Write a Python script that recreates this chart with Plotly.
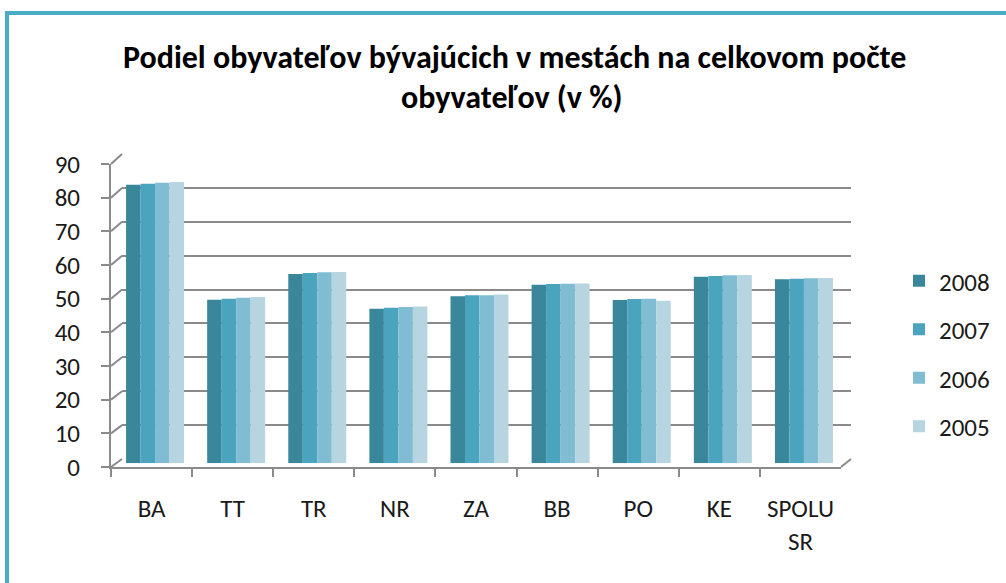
import plotly.graph_objects as go

# ---------------- data ----------------
categories = ["BA", "TT", "TR", "NR", "ZA", "BB", "PO", "KE", "SPOLU<br>SR"]
years = ["2008", "2007", "2006", "2005"]
v2008 = [82.4, 48.4, 56.0, 45.7, 49.4, 52.8, 48.3, 55.2, 54.4]
v2007 = [82.7, 48.7, 56.3, 46.0, 49.7, 53.0, 48.6, 55.4, 54.6]
v2006 = [83.0, 49.0, 56.5, 46.2, 49.7, 53.1, 48.7, 55.6, 54.7]
v2005 = [83.2, 49.2, 56.6, 46.4, 49.9, 53.2, 48.1, 55.7, 54.8]
series = [v2008, v2007, v2006, v2005]
y_ticks = [0, 10, 20, 30, 40, 50, 60, 70, 80, 90]

colors = ["#3A879B", "#4AA4BD", "#80BDD2", "#B7D5E0"]
FONT = "Carlito, Calibri, Lato, sans-serif"
GRAY = "#8A8A8A"
TXT = "#1a1a1a"

W, H = 1006, 583


def px_x(p):
    return p / W


def px_y(p):
    return 1 - p / H


# pixel geometry (front plane, bar plane, back wall)
FRONT_X = (111, 841)
FRONT_Y0, FRONT_Y90 = 467, 164
BAR_X = (114.5, 844.5)
BAR_Y0, BAR_Y90 = 463.3, 159
BACK_X = (122, 851)
BACK_Y0, BACK_Y90 = 459, 154

fig = go.Figure()

# back wall (subplot xy) - gridlines only
fig.add_trace(go.Scatter(x=[], y=[], xaxis="x", yaxis="y", showlegend=False,
                         hoverinfo="skip"))
# front axes (x2y2) - labels
fig.add_trace(go.Scatter(x=categories, y=[None] * len(categories), xaxis="x2",
                         yaxis="y2", showlegend=False, hoverinfo="skip",
                         mode="markers"))
# bars (x3y3)
for yr, vals, col in zip(years, series, colors):
    fig.add_trace(go.Bar(x=categories, y=vals, name=yr, xaxis="x3", yaxis="y3",
                         marker=dict(color=col, line=dict(width=0)),
                         legendgroup=yr))

fig.update_layout(
    width=W, height=H, autosize=False,
    margin=dict(l=0, r=0, t=0, b=0, pad=0),
    paper_bgcolor="white", plot_bgcolor="rgba(0,0,0,0)",
    font=dict(family=FONT, size=25, color=TXT),
    barmode="group", bargap=0.285, bargroupgap=0,
    showlegend=True,
    legend=dict(x=px_x(899), y=px_y(258), xanchor="left", yanchor="top",
                font=dict(size=25, family=FONT, color=TXT),
                traceorder="grouped", tracegroupgap=13,
                bgcolor="rgba(0,0,0,0)"),
    xaxis=dict(domain=[px_x(BACK_X[0]), px_x(BACK_X[1])], anchor="y",
               showline=False, showticklabels=False, ticks="", showgrid=False,
               zeroline=False, range=[0, 1], automargin=False),
    yaxis=dict(domain=[px_y(BACK_Y0), px_y(BACK_Y90)], anchor="x",
               range=[0, 90], tickvals=y_ticks, showticklabels=False, ticks="",
               showgrid=True, gridcolor=GRAY, gridwidth=2, zeroline=False,
               showline=False, automargin=False),
    xaxis2=dict(domain=[px_x(FRONT_X[0]), px_x(FRONT_X[1])], anchor="y2",
                type="category", range=[-0.5, len(categories) - 0.5],
                showline=True, linecolor=GRAY, linewidth=2,
                ticks="outside", ticklen=8, tickwidth=2, tickcolor=GRAY,
                tickson="boundaries", showgrid=False, zeroline=False,
                ticklabelstandoff=18, automargin=False,
                tickfont=dict(size=25, family=FONT, color=TXT)),
    yaxis2=dict(domain=[px_y(FRONT_Y0), px_y(FRONT_Y90)], anchor="x2",
                range=[0, 90], tickvals=y_ticks, showline=True, linecolor=GRAY,
                linewidth=2, ticks="outside", ticklen=8, tickwidth=2,
                tickcolor=GRAY, showgrid=False, zeroline=False,
                ticklabelstandoff=16, automargin=False,
                tickfont=dict(size=25, family=FONT, color=TXT)),
    xaxis3=dict(domain=[px_x(BAR_X[0]), px_x(BAR_X[1])], anchor="y3",
                type="category", range=[-0.5, len(categories) - 0.5],
                visible=False, automargin=False),
    yaxis3=dict(domain=[px_y(BAR_Y0), px_y(BAR_Y90)], anchor="x3",
                range=[0, 90], visible=False, automargin=False),
)

# left side wall: diagonal connections from front axis ticks to back wall gridlines
shapes = []
for v in y_ticks:
    yf = FRONT_Y0 + (FRONT_Y90 - FRONT_Y0) * v / 90
    yb = BACK_Y0 + (BACK_Y90 - BACK_Y0) * v / 90
    shapes.append(dict(type="line", xref="paper", yref="paper",
                       x0=px_x(FRONT_X[0]), y0=px_y(yf),
                       x1=px_x(BACK_X[0]), y1=px_y(yb),
                       line=dict(color=GRAY, width=2), layer="below"))
# floor right edge
shapes.append(dict(type="line", xref="paper", yref="paper",
                   x0=px_x(FRONT_X[1]), y0=px_y(FRONT_Y0),
                   x1=px_x(BACK_X[1]), y1=px_y(BACK_Y0),
                   line=dict(color=GRAY, width=2), layer="below"))
# outer chart border
shapes.append(dict(type="rect", xref="paper", yref="paper",
                   x0=px_x(7), y0=px_y(13), x1=px_x(1040), y1=px_y(620),
                   line=dict(color="#4BACC6", width=4), layer="above"))
fig.update_layout(shapes=shapes)

fig.add_annotation(text="<b>Podiel obyvateľov bývajúcich v mestách na celkovom počte</b>",
                   xref="paper", yref="paper", x=px_x(514), y=px_y(57),
                   xanchor="center", yanchor="middle", showarrow=False,
                   font=dict(size=32, family=FONT, color="#000000"))
fig.add_annotation(text="<b>obyvateľov (v %)</b>",
                   xref="paper", yref="paper", x=px_x(512), y=px_y(97),
                   xanchor="center", yanchor="middle", showarrow=False,
                   font=dict(size=32, family=FONT, color="#000000"))

# remove the default page margin so the figure sits at the window origin
fig.write_html("out.html",
               config={"displayModeBar": False},
               post_script="document.body.style.margin='0';"
                           "document.body.style.overflow='hidden';")
